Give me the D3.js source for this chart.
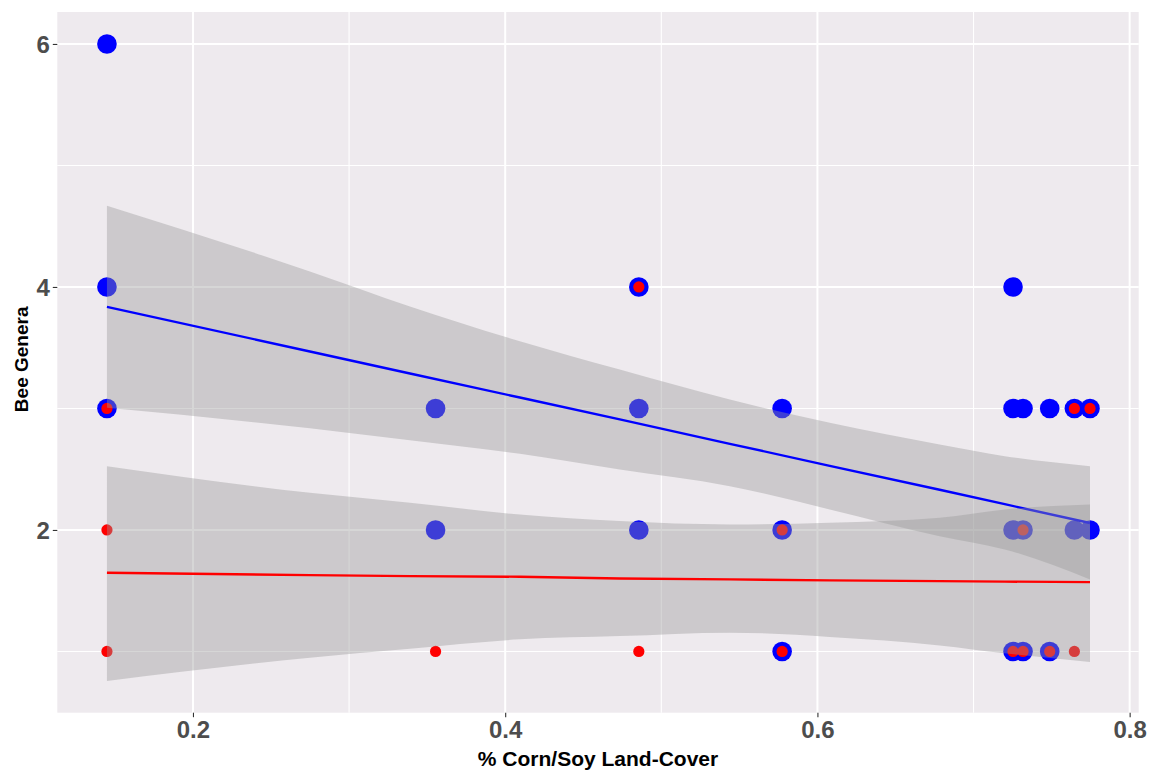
<!DOCTYPE html>
<html>
<head>
<meta charset="utf-8">
<script src="https://cdn.jsdelivr.net/npm/d3@7"></script>
<style>
  html, body { margin: 0; padding: 0; background: #ffffff; }
  svg { display: block; }
  text { font-family: "Liberation Sans", Arial, sans-serif; }
</style>
</head>
<body>
<svg id="chart" width="1152" height="773"></svg>
<script>
// Bee genera per site against the share of corn/soy land cover.
const groupAX = [0.1449, 0.1449, 0.1449, 0.3554, 0.3554, 0.4856, 0.4856, 0.4856,
                 0.5774, 0.5774, 0.5774, 0.7253, 0.7253, 0.7317, 0.7488, 0.7646,
                 0.7746, 0.7253, 0.7317, 0.7646, 0.7746, 0.7253, 0.7317, 0.7488];
const groupAY = [6, 4, 3, 3, 2, 4, 3, 2,
                 3, 2, 1, 4, 3, 3, 3, 3,
                 3, 2, 2, 2, 2, 1, 1, 1];

const groupBX = [0.1449, 0.1449, 0.1449, 0.3554, 0.4856, 0.4856, 0.5774, 0.5774,
                 0.7253, 0.7317, 0.7317, 0.7488, 0.7646, 0.7746, 0.7646];
const groupBY = [3, 2, 1, 1, 4, 1, 2, 1,
                 1, 2, 1, 1, 3, 3, 1];

// Linear fits with their 95% confidence bands, sampled along the x range.
const fitX      = [0.1449, 0.2749, 0.3390, 0.4094, 0.4734, 0.5439, 0.6079, 0.6783, 0.7200, 0.7746];
const fitA      = [3.836, 3.469, 3.288, 3.090, 2.910, 2.709, 2.528, 2.331, 2.212, 2.057];
const fitALower = [3.005, 2.837, 2.738, 2.627, 2.497, 2.360, 2.169, 1.949, 1.840, 1.593];
const fitAUpper = [4.669, 4.128, 3.840, 3.553, 3.320, 3.073, 2.882, 2.703, 2.607, 2.525];
const fitB      = [1.648, 1.628, 1.620, 1.615, 1.600, 1.593, 1.585, 1.579, 1.575, 1.571];
const fitBLower = [0.757, 0.949, 1.023, 1.100, 1.127, 1.155, 1.120, 1.050, 0.985, 0.913];
const fitBUpper = [2.525, 2.306, 2.224, 2.127, 2.073, 2.045, 2.059, 2.100, 2.169, 2.210];

const xTicks = [0.2, 0.4, 0.6, 0.8];
const xMinor = [0.3, 0.5, 0.7];
const yTicks = [2, 4, 6];
const yMinor = [1, 3, 5];
const xTitle = "% Corn/Soy Land-Cover";
const yTitle = "Bee Genera";

const panel = { left: 57.3, right: 1138.7, top: 12, bottom: 712.7 };

const svg = d3.select("#chart");
const x = d3.scaleLinear().domain([0.1131, 0.8058]).range([panel.left, panel.right]);
const y = d3.scaleLinear().domain([0.496, 6.263]).range([panel.bottom, panel.top]);

// panel background
svg.append("rect")
  .attr("x", panel.left).attr("y", panel.top)
  .attr("width", panel.right - panel.left)
  .attr("height", panel.bottom - panel.top)
  .attr("fill", "#EEEAEE");

// grid lines
const grid = svg.append("g");
grid.selectAll(".vminor").data(xMinor).join("line")
  .attr("x1", d => x(d)).attr("x2", d => x(d))
  .attr("y1", panel.top).attr("y2", panel.bottom)
  .attr("stroke", "#fff").attr("stroke-width", 1.1);
grid.selectAll(".hminor").data(yMinor).join("line")
  .attr("y1", d => y(d)).attr("y2", d => y(d))
  .attr("x1", panel.left).attr("x2", panel.right)
  .attr("stroke", "#fff").attr("stroke-width", 1.1);
grid.selectAll(".vmajor").data(xTicks).join("line")
  .attr("x1", d => x(d)).attr("x2", d => x(d))
  .attr("y1", panel.top).attr("y2", panel.bottom)
  .attr("stroke", "#fff").attr("stroke-width", 2);
grid.selectAll(".hmajor").data(yTicks).join("line")
  .attr("y1", d => y(d)).attr("y2", d => y(d))
  .attr("x1", panel.left).attr("x2", panel.right)
  .attr("stroke", "#fff").attr("stroke-width", 2);

// points
const ptsA = groupAX.map((v, i) => ({ x: v, y: groupAY[i] }));
const ptsB = groupBX.map((v, i) => ({ x: v, y: groupBY[i] }));

svg.append("g").selectAll("circle").data(ptsA).join("circle")
  .attr("cx", d => x(d.x)).attr("cy", d => y(d.y))
  .attr("r", 9.8).attr("fill", "#0000FF");
svg.append("g").selectAll("circle").data(ptsB).join("circle")
  .attr("cx", d => x(d.x)).attr("cy", d => y(d.y))
  .attr("r", 5.6).attr("fill", "#FF0000");

// fitted lines with confidence ribbons
const area = d3.area()
  .x(d => x(d.x)).y0(d => y(d.lo)).y1(d => y(d.hi))
  .curve(d3.curveMonotoneX);
const line = d3.line().x(d => x(d.x)).y(d => y(d.y));

function drawFit(fit, lower, upper, color) {
  const band = fitX.map((v, i) => ({ x: v, lo: lower[i], hi: upper[i] }));
  const fitted = fitX.map((v, i) => ({ x: v, y: fit[i] }));
  svg.append("path").datum(band)
    .attr("d", area)
    .attr("fill", "#999999").attr("fill-opacity", 0.4);
  svg.append("path").datum(fitted)
    .attr("d", line)
    .attr("fill", "none").attr("stroke", color).attr("stroke-width", 2.4);
}
drawFit(fitA, fitALower, fitAUpper, "#0000FF");
drawFit(fitB, fitBLower, fitBUpper, "#FF0000");

// axes
const xAxis = d3.axisBottom(x).tickValues(xTicks).tickSize(4.5).tickPadding(4)
  .tickFormat(d3.format(".1f"));
const yAxis = d3.axisLeft(y).tickValues(yTicks).tickSize(4.5).tickPadding(3)
  .tickFormat(d3.format("d"));

const gx = svg.append("g").attr("transform", `translate(0,${panel.bottom})`).call(xAxis);
const gy = svg.append("g").attr("transform", `translate(${panel.left},0)`).call(yAxis);
[gx, gy].forEach(g => {
  g.select(".domain").remove();
  g.selectAll(".tick line").attr("stroke", "#333333").attr("stroke-width", 1.1);
  g.selectAll(".tick text")
    .attr("fill", "#4D4D4D")
    .style("font-family", '"Liberation Sans", Arial, sans-serif')
    .style("font-size", "24px")
    .style("font-weight", "bold");
});
gy.selectAll(".tick text").attr("dy", "0.36em");

// axis titles
svg.append("text")
  .attr("x", (panel.left + panel.right) / 2).attr("y", 766)
  .attr("text-anchor", "middle")
  .style("font-size", "21px").style("font-weight", "bold").attr("fill", "#000")
  .text(xTitle);
svg.append("text")
  .attr("transform", `translate(28,${(panel.top + panel.bottom) / 2 - 3}) rotate(-90)`)
  .attr("text-anchor", "middle")
  .style("font-size", "19px").style("font-weight", "bold").attr("fill", "#000")
  .text(yTitle);
</script>
</body>
</html>
